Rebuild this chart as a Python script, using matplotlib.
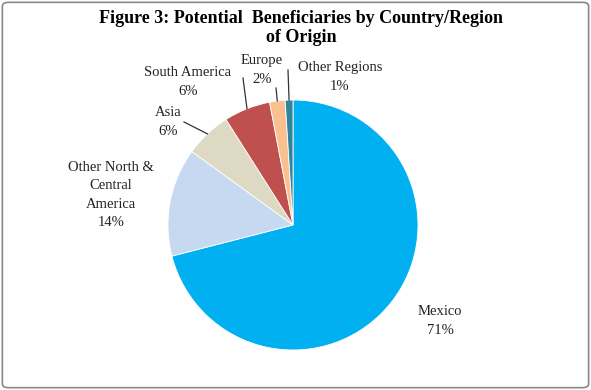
import numpy as np
import matplotlib.pyplot as plt
from matplotlib.patches import FancyBboxPatch

# data
regions = ['Mexico', 'Other North &\nCentral\nAmerica', 'Asia', 'South America', 'Europe', 'Other Regions']
shares = [71, 14, 6, 6, 2, 1]
colors = ['#00B0F0', '#C6D9F1', '#DDD9C3', '#C0504D', '#FAC090', '#31849B']

plt.rcParams['font.family'] = ['Liberation Serif', 'DejaVu Serif']

W, H = 591, 390
fig = plt.figure(figsize=(W/100, H/100), dpi=100)
ax = fig.add_axes([0, 0, 1, 1])

# pie centre and radius in pixels
cx, cy, R = 293, 225, 125

wedges, _ = ax.pie(shares, colors=colors, startangle=90, counterclock=False,
                   radius=1, center=(0, 0),
                   wedgeprops=dict(edgecolor='white', linewidth=0.6))

ax.set_xlim(-cx/R, (W-cx)/R)
ax.set_ylim(-(H-cy)/R, cy/R)
ax.set_aspect('auto')
ax.axis('off')

def px(x, y):
    # pixel (from top-left) -> data coords
    return ((x - cx)/R, (cy - y)/R)

fs = 10.5
labels = [f'{r}\n{s}%' for r, s in zip(regions, shares)]

# label positions (pixel, text centre) and leader line end on label side
pos = {
    0: ((440, 321), None),
    1: ((111, 195), None),
    2: ((168, 122), (184, 122)),
    3: ((188, 82), (243, 78)),
    4: ((262, 70), (276, 88)),
    5: ((340, 77), (288, 70)),
}

for i, w in enumerate(wedges):
    (tx, ty), lead = pos[i]
    ax.text(*px(tx, ty), labels[i], ha='center', va='center', fontsize=fs,
            linespacing=1.55, color='#222222')
    if lead is not None:
        ang = np.deg2rad((w.theta1 + w.theta2)/2)
        ax.plot([px(*lead)[0], np.cos(ang)*1.0],
                [px(*lead)[1], np.sin(ang)*1.0],
                color='#333333', lw=0.9)

fig.text(0.51, 1 - 28/H, 'Figure 3: Potential  Beneficiaries by Country/Region\nof Origin',
         ha='center', va='center', fontsize=13, fontweight='bold', linespacing=1.2)

border = FancyBboxPatch((0.004, 0.006), 0.992, 0.988, boxstyle='round,pad=0,rounding_size=0.01',
                        transform=fig.transFigure, fill=False, edgecolor='#888888', linewidth=1.2)
fig.patches.append(border)

plt.savefig('out.png', dpi=100)
